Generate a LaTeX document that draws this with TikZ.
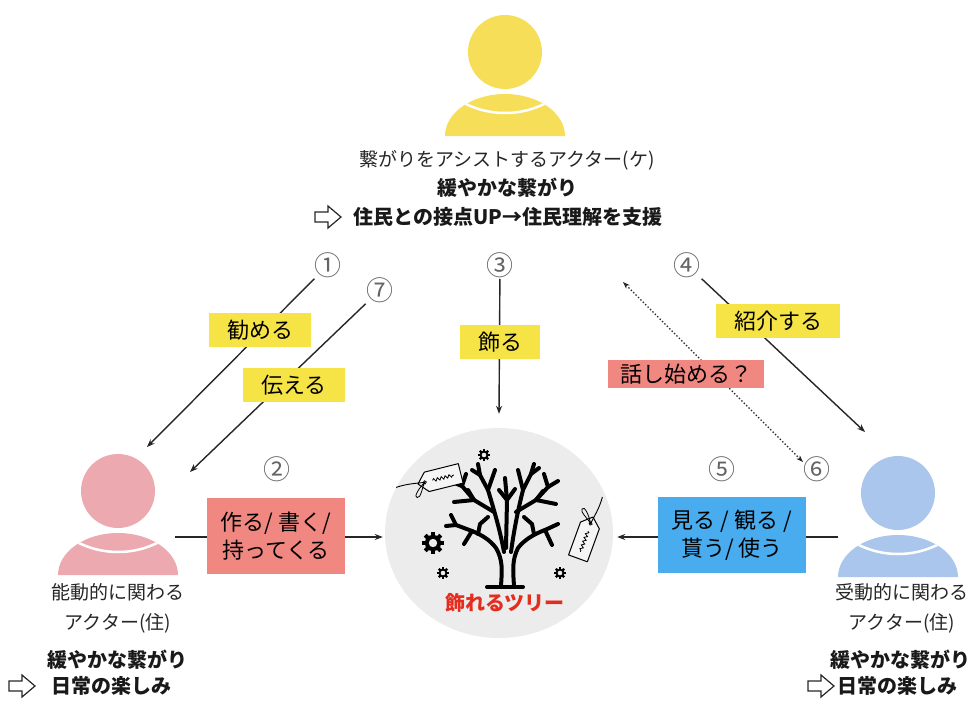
\documentclass[tikz,border=0pt]{standalone}
\usepackage{fontspec}
\setmainfont{Noto Sans CJK JP}
\usepackage{xcolor}
\usetikzlibrary{arrows.meta,positioning,shapes.geometric,decorations.pathmorphing}

\definecolor{actY}{RGB}{246,222,88}
\definecolor{actR}{RGB}{236,170,176}
\definecolor{actB}{RGB}{170,198,236}
\definecolor{tagY}{RGB}{246,228,70}
\definecolor{tagR}{RGB}{240,135,128}
\definecolor{tagB}{RGB}{72,172,238}
\definecolor{treegray}{RGB}{236,236,236}
\definecolor{numgray}{RGB}{100,100,100}
\definecolor{treered}{RGB}{228,45,30}

\begin{document}
\begin{tikzpicture}[x=1pt, y=-1pt,
  lbl/.style={inner xsep=18pt, inner ysep=0pt, minimum height=34pt, align=center, font=\fontsize{22}{28}\selectfont},
  num/.style={inner sep=1pt, text=numgray, font=\fontsize{27}{27}\selectfont},
  role/.style={align=center, text=black!85, font=\fontsize{19}{30}\selectfont},
  bold/.style={text=black!90, font=\fontsize{20}{24}\selectfont\bfseries},
  arr/.style={-{Stealth[length=8pt,width=6pt]}, line width=1.4pt, draw=black!85},
  actor/.pic={
    \fill[#1] (0,0) circle[radius=37pt];
    \fill[#1] (-60,84) arc[start angle=180, end angle=0, x radius=60pt, y radius=42pt] -- cycle;
    \begin{scope}
      \clip (-60,84) arc[start angle=180, end angle=0, x radius=60pt, y radius=42pt] -- cycle;
      \draw[white, line width=2.5pt] (0,-28) circle[radius=89pt];
    \end{scope}
    \coordinate (-east) at (57,46);
    \coordinate (-west) at (-60,44);
  },
  hollow/.pic={
    \draw[line width=1.2pt, draw=black!85] (0,-5) -- (13,-5) -- (13,-11) -- (26,0) -- (13,11) -- (13,5) -- (0,5) -- cycle;
  },
  gear/.pic={
    \foreach \a in {0,45,...,315}
      \fill[rotate=\a] (0.5*#1,-0.18*#1) rectangle (#1,0.18*#1);
    \fill (0,0) circle[radius={0.74pt*#1}];
    \fill[treegray] (0,0) circle[radius={0.38pt*#1}];
  },
  tag/.pic={
    \draw[line width=1pt, line join=round, fill=white!50!treegray] (0,0) -- (9,-10) -- (44,-10) -- (44,10) -- (9,10) -- cycle;
    \draw[line width=0.8pt] (7,0) circle[radius=1.6pt];
    \draw[line width=0.8pt, decorate, decoration={snake, amplitude=1.5pt, segment length=4pt}] (15,0) -- (37,0);
    \draw[line width=0.9pt] (7,0) .. controls (-2,-1) and (-10,-3) .. (-22,-2);
    \draw[line width=0.8pt] (7,0) .. controls (0,4) and (-8,12) .. (-4,13) .. controls (0,14) and (2,6) .. (7,0);
  }]
\useasboundingbox (0,0) rectangle (978,713);

\node[ellipse, fill=treegray, minimum width=228pt, minimum height=210pt, inner sep=0] (treebg) at (499,533) {};

\pic (pT) at (505,52) {actor=actY};
\pic (pL) at (118,491) {actor=actR};
\pic (pR) at (898,493) {actor=actB};

\node[role] (tRole) at (507,160) {繋がりをアシストするアクター(ケ)};
\node[bold] (tBold) at (507,188) {緩やかな繋がり};
\node[bold, anchor=west] (tGoal) at (350,217) {住民との接点UP→住民理解を支援};
\pic at (315,217) {hollow};

\node[role] (lRole) at (118,608) {能動的に関わる\\アクター(住)};
\node[bold] (lBold) at (117,660) {緩やかな繋がり};
\node[bold, anchor=west] (lGoal) at (48,686) {日常の楽しみ};
\pic at (9,686) {hollow};

\node[role] (rRole) at (902,608) {受動的に関わる\\アクター(住)};
\node[bold] (rBold) at (900,660) {緩やかな繋がり};
\node[bold, anchor=west] (rGoal) at (834,686) {日常の楽しみ};
\pic at (808,686) {hollow};

\node[num] (n1) at (328,265) {①};
\node[num] (n7) at (380,290) {⑦};
\node[num] (n3) at (500,265) {③};
\node[num] (n4) at (687,265) {④};
\node[num] (n2) at (277,469) {②};
\node[num] (n5) at (722,469) {⑤};
\node[num] (n6) at (817,469) {⑥};

\coordinate (aim1) at (147,447);
\coordinate (aim7) at (190,472);
\coordinate (aim4) at (865,432);
\coordinate (talkA) at (623,282);
\coordinate (talkB) at (803,462);

\draw[arr] (n1) -- (aim1);
\draw[arr] (n7) -- (aim7);
\draw[arr] (n3) -- ([yshift=14pt]treebg.north);
\draw[arr] (n4) -- (aim4);
\draw[dotted, line width=1.4pt, draw=black!85, {Stealth[length=7pt,width=5pt]}-{Stealth[length=7pt,width=5pt]}] (talkA) -- (talkB);
\draw[arr] (pL-east) -- ([xshift=-2pt]pL-east -| treebg.west);
\draw[arr] (pR-west) -- ([xshift=4pt]pR-west -| treebg.east);

\node[lbl, fill=tagY] (l1) at (260,330) {勧める};
\node[lbl, fill=tagY] (l7) at (294,385) {伝える};
\node[lbl, fill=tagY] (l3) at (500,342) {飾る};
\node[lbl, fill=tagY] (l4) at (778,321) {紹介する};
\node[lbl, fill=tagR, minimum height=28pt, inner xsep=12pt] (lTalk) at (686,374) {話し始める？};
\node[lbl, fill=tagR, minimum height=76pt, inner xsep=14pt] (l2) at (276,536) {作る/ 書く/\\持ってくる};
\node[lbl, fill=tagB, minimum height=76pt, inner xsep=14pt] (l5) at (732,535) {見る / 観る /\\貰う/ 使う};

% bare tree
\begin{scope}[line width=4pt, line cap=round, line join=round]
\draw (501,586) .. controls (502,570) and (503,560) .. (496,548) .. controls (490,540) and (482,535) .. (472,531);
\draw (514,586) .. controls (513,570) and (512,560) .. (518,548) .. controls (524,540) and (534,534) .. (545,530);
\draw (487,587) -- (523,587);
\draw (504,552) .. controls (500,530) and (494,510) .. (488,490) -- (480,475) -- (478,464);
\draw (511,552) .. controls (514,530) and (518,510) .. (523,490) -- (531,474) -- (534,464);
\draw (506,548) -- (507,500) -- (505,478);
\draw (494,512) -- (474,500) -- (462,486);
\draw (474,500) -- (454,502);
\draw (516,512) -- (536,500) -- (548,487);
\draw (536,500) -- (556,504);
\draw (472,531) -- (456,525) -- (451,515);
\draw (472,531) -- (464,544);
\draw (545,530) -- (558,524);
\draw (545,530) -- (552,545);
\draw (488,490) -- (495,470);
\draw (523,490) -- (518,470);
\draw (462,486) -- (466,474);
\draw (548,487) -- (544,474);
\draw (462,486) -- (452,482);
\draw (548,487) -- (558,481);
\draw (507,500) -- (499,490);
\draw (507,500) -- (515,489);
\draw (480,475) -- (472,470);
\draw (531,474) -- (539,468);
\draw (474,500) -- (468,490);
\draw (536,500) -- (543,491);
\draw (456,525) -- (446,526);
\draw (488,517) -- (480,524) -- (478,534);
\draw (524,517) -- (532,524) -- (534,534);
\end{scope}

\pic at (433,543) {gear=11};
\pic at (484,455) {gear=6};
\pic at (443,573) {gear=6};
\pic at (560,573) {gear=6};
\pic[rotate=14] at (418,484) {tag};
\pic[rotate=-110] at (593,517) {tag};

\node[text=treered, font=\fontsize{20}{20}\selectfont\bfseries] (treeName) at (505,603) {飾れるツリー};
\end{tikzpicture}
\end{document}
